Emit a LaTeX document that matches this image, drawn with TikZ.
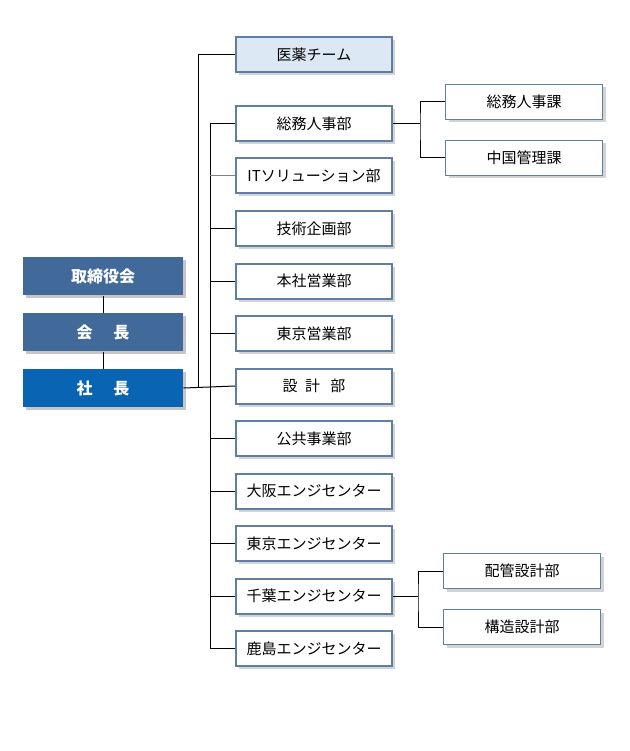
\documentclass[tikz,border=0pt]{standalone}
\usepackage{fontspec}
\setmainfont{Noto Sans CJK JP}
\usetikzlibrary{shadows}
\definecolor{kanbu}{HTML}{41699A}
\definecolor{shacho}{HTML}{0A64B4}
\definecolor{iyaku}{HTML}{DDE8F5}
\definecolor{waku}{HTML}{5F7EA6}

\begin{document}
\begin{tikzpicture}[x=1pt,y=-1pt, line width=1pt,
		yakuin/.style={fill=kanbu, text=white, font=\fontsize{16}{18}\selectfont\bfseries,
			minimum width=160pt, minimum height=38pt, inner sep=0pt,
			drop shadow={shadow xshift=3pt, shadow yshift=-3pt, opacity=0.45}},
		bumon/.style={draw=waku, fill=white, line width=2pt, font=\fontsize{15}{17}\selectfont,
			minimum width=156pt, minimum height=35pt, inner sep=0pt,
			drop shadow={shadow xshift=3pt, shadow yshift=-3pt, opacity=0.35}},
		ka/.style={draw=waku, fill=white, line width=1.2pt, font=\fontsize{15}{17}\selectfont,
			minimum width=157pt, minimum height=35pt, inner sep=0pt,
			drop shadow={shadow xshift=3pt, shadow yshift=-3pt, opacity=0.35}}]
		%\draw [help lines] (0,0) grid (629,751);
		\useasboundingbox (0,0) rectangle (629,751);

		\node [yakuin] (torishimari) at (103,276) {取締役会};
		\node [yakuin] (kaicho) at (103,332) {会\hspace{1.3em}長};
		\node [yakuin, fill=shacho] (shacho) at (103,388) {社\hspace{1.3em}長};

		\node [bumon, fill=iyaku] (iyaku) at (314,55) {医薬チーム};
		\node [bumon] (somu) at (314,123.5) {総務人事部};
		\node [bumon] (it) at (314,176) {ITソリューション部};
		\node [bumon] (gijutsu) at (314,228.5) {技術企画部};
		\node [bumon] (honsha) at (314,281) {本社営業部};
		\node [bumon] (tokyoeigyo) at (314,333.5) {東京営業部};
		\node [bumon] (sekkei) at (314,386) {設\hspace{0.5em}計\hspace{0.7em}部};
		\node [bumon] (kokyo) at (314,438.5) {公共事業部};
		\node [bumon] (osaka) at (314,491) {大阪エンジセンター};
		\node [bumon] (tokyoeng) at (314,543.5) {東京エンジセンター};
		\node [bumon] (chiba) at (314,596) {千葉エンジセンター};
		\node [bumon] (kashima) at (314,648.5) {鹿島エンジセンター};

		\node [ka] (jinji) at (524,102) {総務人事課};
		\node [ka] (chugoku) at (524,158) {中国管理課};
		\node [ka] (haikan) at (522,571) {配管設計部};
		\node [ka] (kozo) at (522,627) {構造設計部};

		\coordinate (bus1) at (198,388);
		\coordinate (bus2) at (210,0);
		\coordinate (bus3) at (420,0);
		\coordinate (bus4) at (418,0);

		\draw (torishimari) -- (kaicho);
		\draw (kaicho) -- (shacho);
		\draw (shacho.east) -- (sekkei.west);
		\draw (iyaku.west) -| (bus1);
		\draw (somu.west) -- (somu.west -| bus2) -- (kashima.west -| bus2) -- (kashima.west);
		\draw [gray] (it.west) -- (it.west -| bus2);
		\draw (gijutsu.west) -- (gijutsu.west -| bus2);
		\draw (honsha.west) -- (honsha.west -| bus2);
		\draw (tokyoeigyo.west) -- (tokyoeigyo.west -| bus2);
		\draw (kokyo.west) -- (kokyo.west -| bus2);
		\draw (osaka.west) -- (osaka.west -| bus2);
		\draw (tokyoeng.west) -- (tokyoeng.west -| bus2);
		\draw (chiba.west) -- (chiba.west -| bus2);

		\draw (somu.east) -- (somu.east -| bus3);
		\draw (jinji.west) -| (somu.east -| bus3) |- (chugoku.west);
		\draw (chiba.east) -- (chiba.east -| bus4);
		\draw (haikan.west) -| (chiba.east -| bus4) |- (kozo.west);
	\end{tikzpicture}
\end{document}
